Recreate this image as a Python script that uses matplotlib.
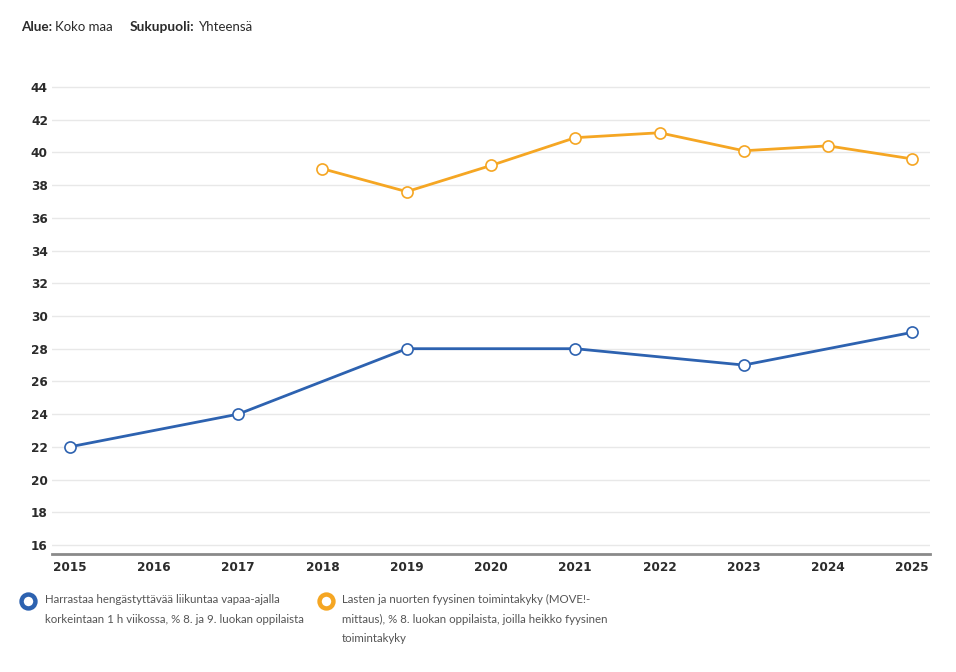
import matplotlib.pyplot as plt

# data
years = list(range(2015, 2026))
blue_years = [2015, 2017, 2019, 2021, 2023, 2025]
blue_vals = [22, 24, 28, 28, 27, 29]
orange_years = [2018, 2019, 2020, 2021, 2022, 2023, 2024, 2025]
orange_vals = [39.0, 37.6, 39.2, 40.9, 41.2, 40.1, 40.4, 39.6]
y_ticks = list(range(16, 46, 2))

blue_label = 'Harrastaa hengästyttävää liikuntaa vapaa-ajalla\nkorkeintaan 1 h viikossa, % 8. ja 9. luokan oppilaista'
orange_label = 'Lasten ja nuorten fyysinen toimintakyky (MOVE!-\nmittaus), % 8. luokan oppilaista, joilla heikko fyysinen\ntoimintakyky'

BLUE = '#2d62b0'
ORANGE = '#f5a623'

plt.rcParams['font.family'] = ['Lato', 'DejaVu Sans']

fig = plt.figure(figsize=(9.56, 6.72), dpi=100)
ax = fig.add_axes([52/956, 1-554/672, (930-52)/956, (554-70.6)/672])

ax.plot(blue_years, blue_vals, color=BLUE, lw=2, marker='o', ms=8,
        mfc='white', mec=BLUE, mew=1.2, zorder=3)
ax.plot(orange_years, orange_vals, color=ORANGE, lw=2, marker='o', ms=8,
        mfc='white', mec=ORANGE, mew=1.2, zorder=3)

ax.set_xlim(2014.79, 2025.21)
ax.set_ylim(15.45, 45)
ax.set_xticks(years)
ax.set_yticks(y_ticks)
ax.tick_params(axis='x', length=0, labelsize=8.7, labelcolor='#2b2b2b', pad=5)
ax.tick_params(axis='y', length=0, labelsize=8.7, labelcolor='#2b2b2b', pad=3)
for lbl in ax.get_xticklabels() + ax.get_yticklabels():
    lbl.set_fontweight('bold')
    lbl.set_family('DejaVu Sans')
ax.grid(axis='y', color='#e8e8e8', lw=1)
ax.set_axisbelow(True)
for s in ['top', 'right', 'left']:
    ax.spines[s].set_visible(False)
ax.spines['bottom'].set_color('#8a8a8a')
ax.spines['bottom'].set_linewidth(2)

# header
fig.text(21/956, 1-27/672, 'Alue:', fontsize=9.7, fontweight='bold', color='#2b2b2b', va='center')
fig.text(55/956, 1-27/672, 'Koko maa', fontsize=9.5, color='#2b2b2b', va='center')
fig.text(130/956, 1-27/672, 'Sukupuoli:', fontsize=9.9, fontweight='bold', color='#2b2b2b', va='center')
fig.text(199/956, 1-27/672, 'Yhteensä', fontsize=9.5, color='#2b2b2b', va='center')

# legend
fig.lines.append(plt.Line2D([28/956], [1-601/672], transform=fig.transFigure, marker='o',
                            ms=10, mfc='white', mec=BLUE, mew=3.2, ls=''))
fig.lines.append(plt.Line2D([326/956], [1-601/672], transform=fig.transFigure, marker='o',
                            ms=10, mfc='white', mec=ORANGE, mew=3.2, ls=''))
fig.text(45/956, 1-594/672, blue_label, fontsize=8.3, color='#555555', va='top', linespacing=1.95)
fig.text(342/956, 1-594/672, orange_label, fontsize=8.3, color='#555555', va='top', linespacing=1.95)

fig.savefig('out.png', dpi=100)
